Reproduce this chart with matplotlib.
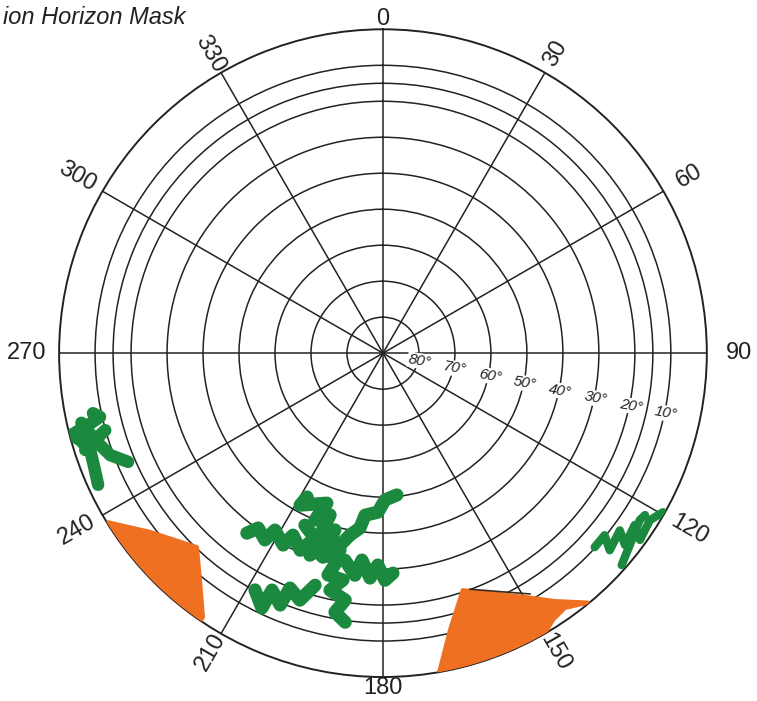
import numpy as np
import matplotlib.pyplot as plt

plt.rcParams['font.family'] = ['Liberation Sans', 'DejaVu Sans']

# --- grid of the horizon mask ---
AZ_TICKS = [0, 30, 60, 90, 120, 150, 180, 210, 240, 270, 300, 330]
EL_RINGS = [80, 70, 60, 50, 40, 30, 20, 15, 10]
EL_LABELS = [80, 70, 60, 50, 40, 30, 20, 10]
EL_LABEL_AZ = 102

GREEN = '#1b8a3f'
ORANGE = '#f07022'

# obstructions sketched on the mask, (azimuth deg, elevation deg)
green_west = [
    [(258.3, 7.7), (257.3, 9.4), (256.3, 5.6), (255.3, 0.5), (254.0, 2.4),
     (251.7, 4.3), (247.9, 3.6), (245.2, 2.8)],
    [(254.5, 9.9), (253.2, 6.4), (249.5, 9.1), (246.9, 13.0)],
    [(257.0, 4.0), (254.0, 6.0), (252.0, 3.0)],
]
green_centre = [
    [(217.1, 27.3), (215.5, 30.3), (212.3, 28.6), (211.4, 32.4), (207.5, 29.9),
     (206.3, 33.6), (202.8, 30.6), (201.1, 33.7), (196.4, 30.9)],
    [(207.8, 44.8), (208.6, 41.9), (200.5, 45.5), (202.2, 39.9), (198.1, 42.7),
     (199.1, 36.5), (195.2, 39.1), (196.4, 32.9), (192.3, 31.2), (193.9, 26.5),
     (190.0, 26.0), (192.6, 22.5), (188.7, 20.6), (190.5, 16.8), (188.0, 14.5)],
    [(192.6, 35.3), (190.3, 38.6), (187.5, 41.0), (186.3, 44.7), (181.8, 45.8),
     (179.2, 49.2), (174.4, 50.4)],
    [(190.4, 31.5), (187.2, 27.8), (185.8, 32.2), (183.3, 27.4), (181.4, 31.1),
     (179.5, 26.9), (177.4, 28.8)],
    [(196.3, 22.8), (198.6, 17.6), (201.6, 19.8), (202.2, 14.4), (205.1, 17.3),
     (205.4, 11.6), (208.4, 15.2)],
    [(204.4, 37.5), (198.2, 33.9), (199.9, 30.3), (196.2, 37.3), (192.3, 34.0)],
]
green_east = [
    [(132.5, 10.2), (129.4, 10.3), (131.0, 6.5), (126.8, 7.8), (128.4, 4.2),
     (124.3, 5.3), (126.0, 1.7), (122.0, 2.5), (119.6, 0.5)],
    [(121.7, 4.4), (123.0, 4.9), (127.9, 3.1), (131.6, 1.3)],
]
orange_sw = [(238.4, 0.3), (232.5, 8.4), (223.8, 15.3), (218.9, 9.0), (214.3, 1.2),
             (214.3, 0), (220, 0), (226, 0), (232, 0), (238.4, 0)]
orange_s = [(170, 0), (166.4, 10.8), (161.4, 20.5), (149.8, 11.6), (145.3, 6.2),
            (140.6, 0.3), (144.5, 3.0), (147.5, 2.1), (150, 0), (155, 0),
            (160, 0), (165, 0), (170, 0)]
orange_s_edge = [(159.8, 20.1), (148.6, 11.6)]


def polar(points):
    az, el = np.array(points).T
    return np.deg2rad(az), 90 - el


fig = plt.figure(figsize=(7.57, 7.01), dpi=100)
ax = fig.add_axes([0.0779, 0.0342, 0.856, 0.924], projection='polar')
ax.set_theta_zero_location('N')
ax.set_theta_direction(-1)
ax.set_ylim(0, 90)
ax.set_axisbelow(True)

ax.set_xticks(np.deg2rad(AZ_TICKS))
ax.set_xticklabels([])
ax.set_yticks([90 - e for e in EL_RINGS])
ax.set_yticklabels([])
ax.grid(True, color='#222222', lw=1.1)
ax.spines['polar'].set_color('#222222')
ax.spines['polar'].set_linewidth(1.4)

# azimuth labels, pushed further out where the text runs sideways
for az in AZ_TICKS:
    if az % 90 == 0:
        rot = 0
    elif az < 180:
        rot = 90 - az
    else:
        rot = 270 - az
    r_lab = 93 + 6 * abs(np.sin(np.deg2rad(az)))
    ax.text(np.deg2rad(az), r_lab, str(az), rotation=rot, ha='center', va='center',
            fontsize=17, color='#222222')

# elevation labels
for el in EL_LABELS:
    ax.text(np.deg2rad(EL_LABEL_AZ), 90 - el + 0.4, f'{el}°', rotation=-10,
            ha='center', va='center', fontsize=11, style='italic', color='#222222',
            bbox=dict(facecolor='white', edgecolor='none', pad=0.5), zorder=3)

# orange obstructions
for poly in (orange_sw, orange_s):
    th, r = polar(poly)
    ax.fill(th, r, color=ORANGE, lw=3, joinstyle='round', zorder=4)
th, r = polar(orange_s_edge)
ax.plot(th, r, color='#3a2a20', lw=1.2, zorder=5)

# green obstructions
for strokes, width in ((green_west, 9), (green_centre, 9.5), (green_east, 6)):
    for s in strokes:
        th, r = polar(s)
        ax.plot(th, r, color=GREEN, lw=width, solid_capstyle='round',
                solid_joinstyle='round', zorder=6)

fig.text(0.004, 1 - 18 / 701, 'ion Horizon Mask', style='italic', fontsize=17,
         ha='left', va='center', color='#222222')

fig.savefig('out.png', dpi=100)
